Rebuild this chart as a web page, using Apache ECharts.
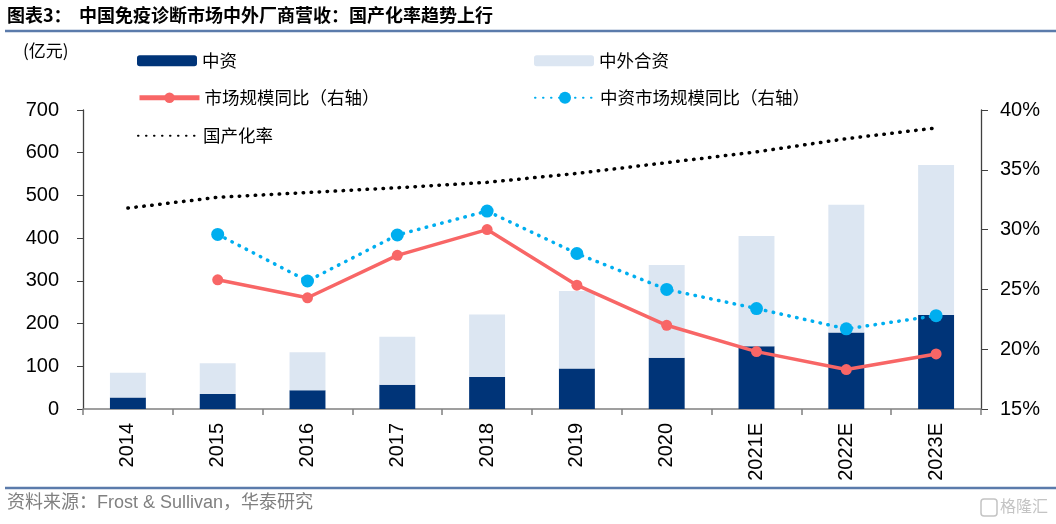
<!DOCTYPE html>
<html>
<head>
<meta charset="utf-8">
<script src="https://cdn.jsdelivr.net/npm/echarts@6/dist/echarts.min.js"></script>
<style>
html,body{margin:0;padding:0;background:#fff;}
#chart{width:1056px;height:524px;}
</style>
</head>
<body>
<div id="chart"></div>
<script>
const categories = ['2014','2015','2016','2017','2018','2019','2020','2021E','2022E','2023E'];
const domestic = [27, 35, 44, 57, 75, 95, 120, 147, 179, 220];
const jointForeign = [58, 72, 89, 112, 146, 181, 217, 258, 299, 351];
const marketYoY = [null, 25.8, 24.3, 27.85, 30.0, 25.35, 22.0, 19.8, 18.3, 19.6];
const domesticYoY = [null, 29.6, 25.7, 29.55, 31.55, 28.0, 25.0, 23.4, 21.7, 22.8];
const localizationRate = [31.8, 32.7, 33.1, 33.5, 33.95, 34.7, 35.6, 36.5, 37.6, 38.5];
const leftTicks = {min: 0, max: 700, interval: 100};
const rightTicks = {min: 15, max: 40, interval: 5};

const CJK = '"Noto Sans CJK SC", "Liberation Sans", sans-serif';
const NUM = '"Liberation Sans", Arial, sans-serif';
const MIX = '"Liberation Sans", "Noto Sans CJK SC", sans-serif';

const names = ['中资', '中外合资', '市场规模同比（右轴）', '中资市场规模同比（右轴）', '国产化率'];

function legendAt(item, left, top, h) {
  return {
    data: [item], left: left, top: top, orient: 'horizontal',
    itemWidth: 60, itemHeight: h, itemGap: 0,
    selectedMode: false,
    textStyle: {fontFamily: CJK, fontSize: 17.5, color: '#000', padding: [0, 0, 0, 0]}
  };
}

const chart = echarts.init(document.getElementById('chart'), null, {renderer: 'canvas'});
chart.setOption({
  animation: false,
  backgroundColor: '#fff',
  grid: {left: 83, right: 75, top: 110, bottom: 115, containLabel: false},
  legend: [
    legendAt(names[0], 132, 47, 11),
    legendAt(names[1], 529, 47, 11),
    legendAt({name: names[2], lineStyle: {width: 5}}, 132, 84, 13),
    legendAt(names[3], 529, 84, 15),
    legendAt({name: names[4], itemStyle: {opacity: 0}}, 132, 122, 11)
  ],
  graphic: [
    {type: 'text', left: 7, top: 6, style: {text: '图表3：', font: 'bold 18px ' + CJK, fill: '#000'}},
    {type: 'text', left: 79, top: 6, style: {text: '中国免疫诊断市场中外厂商营收：国产化率趋势上行', font: 'bold 18px ' + CJK, fill: '#000'}},
    {type: 'line', shape: {x1: 5, y1: 31, x2: 1056, y2: 31}, style: {stroke: '#5b7bab', lineWidth: 2.5}},
    {type: 'text', left: 23, top: 42, style: {text: '(亿元)', font: '17px ' + CJK, fill: '#000'}},
    {type: 'line', shape: {x1: 5, y1: 488, x2: 1056, y2: 488}, style: {stroke: '#5b7bab', lineWidth: 2.5}},
    {type: 'text', left: 7, top: 494, style: {text: '资料来源：Frost & Sullivan，华泰研究', font: '18px ' + MIX, fill: '#808080'}},
    {type: 'rect', shape: {x: 981, y: 499, width: 16, height: 17, r: 3}, style: {fill: 'none', stroke: '#c4c4c4', lineWidth: 1.5}},
    {type: 'text', left: 1000, top: 498, style: {text: '格隆汇', font: '16px ' + CJK, fill: '#c4c4c4'}}
  ],
  xAxis: {
    type: 'category', data: categories, boundaryGap: true,
    axisLine: {lineStyle: {color: '#808080', width: 1.5}},
    axisTick: {show: true, length: 6, lineStyle: {color: '#808080', width: 1.5}},
    axisLabel: {rotate: 90, margin: 14, fontFamily: NUM, fontSize: 20, color: '#000', interval: 0}
  },
  yAxis: [
    {
      type: 'value', min: leftTicks.min, max: leftTicks.max, interval: leftTicks.interval,
      axisLine: {show: true, lineStyle: {color: '#404040', width: 1.3}},
      axisTick: {show: true, length: 6, lineStyle: {color: '#404040'}},
      splitLine: {show: false},
      axisLabel: {margin: 24, fontFamily: NUM, fontSize: 20, color: '#000'}
    },
    {
      type: 'value', min: rightTicks.min, max: rightTicks.max, interval: rightTicks.interval,
      position: 'right',
      axisLine: {show: true, lineStyle: {color: '#404040', width: 1.3}},
      axisTick: {show: true, length: 7, lineStyle: {color: '#404040'}},
      splitLine: {show: false},
      axisLabel: {margin: 19, fontFamily: NUM, fontSize: 20, color: '#000', formatter: '{value}%'}
    }
  ],
  series: [
    {name: names[0], type: 'bar', stack: 'rev', data: domestic, barWidth: '40%',
     itemStyle: {color: '#003478'}},
    {name: names[1], type: 'bar', stack: 'rev', data: jointForeign, barWidth: '40%',
     itemStyle: {color: '#dce6f2'}},
    {name: names[2], type: 'line', yAxisIndex: 1, data: marketYoY,
     symbol: 'circle', symbolSize: 11, connectNulls: false,
     itemStyle: {color: '#f86666'}, lineStyle: {color: '#f86666', width: 3.5}, z: 3},
    {name: names[3], type: 'line', yAxisIndex: 1, data: domesticYoY,
     symbol: 'circle', symbolSize: 13,
     itemStyle: {color: '#00aeef'},
     lineStyle: {color: '#00aeef', width: 3.5, type: [0.5, 7.5], cap: 'round'}, z: 4},
    {name: names[4], type: 'line', yAxisIndex: 1, data: localizationRate,
     symbol: 'none', itemStyle: {color: '#000'},
     lineStyle: {color: '#000', width: 3.5, type: [0.5, 7.5], cap: 'round'}, z: 5}
  ]
});
</script>
</body>
</html>
